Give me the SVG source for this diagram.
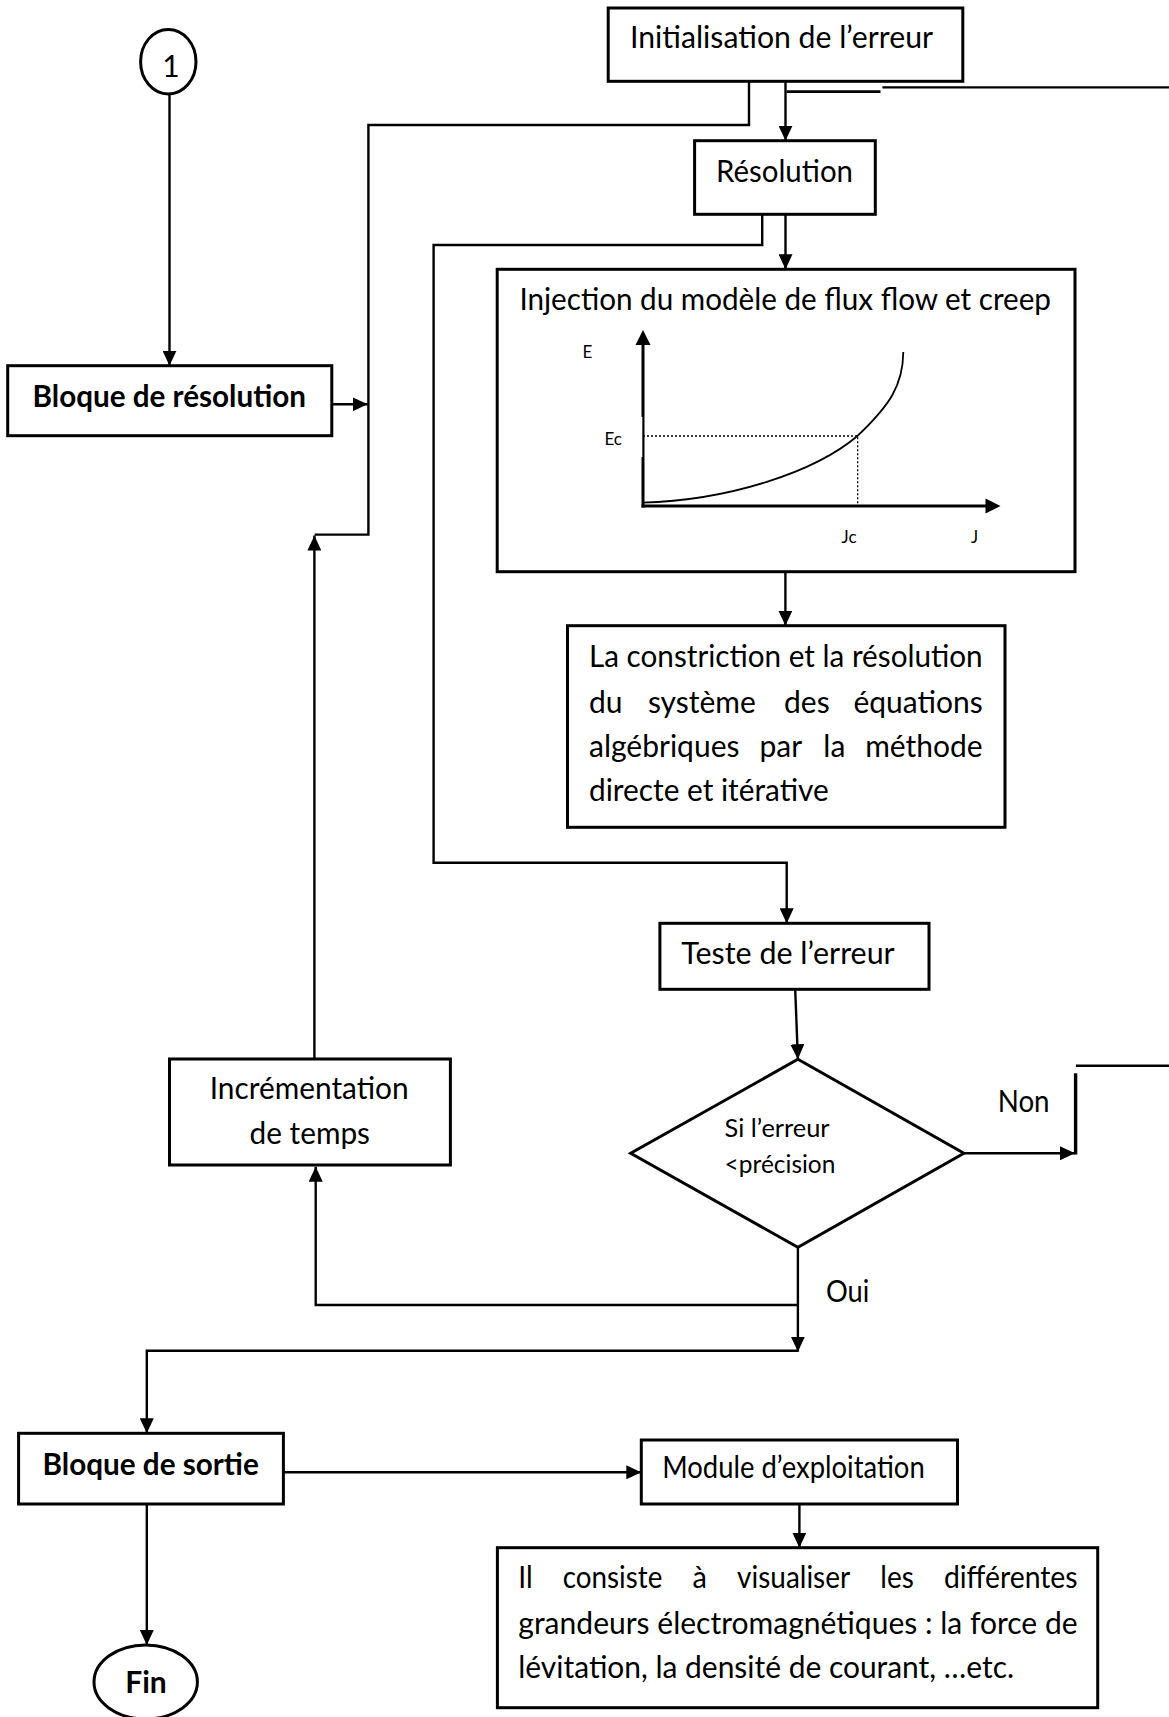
<svg xmlns="http://www.w3.org/2000/svg" width="1169" height="1717" viewBox="0 0 1169 1717">
<style>
.box{fill:#fff;stroke:#000;stroke-width:3}
.ln{fill:none;stroke:#000;stroke-width:2.4}
.t{font-family:Lato,"Open Sans",sans-serif;font-size:30px;fill:#000}
.b{font-weight:bold}
.s{font-size:17px}
.m{font-size:25px}
.e{text-anchor:end}
</style>
<defs>
<marker id="ah" markerUnits="userSpaceOnUse" markerWidth="15" markerHeight="14" refX="15" refY="7" orient="auto">
<path d="M0,0 L15,7 L0,14 z" fill="#000"/>
</marker>
</defs>
<rect width="1169" height="1717" fill="#fff"/>

<g id="connectors">
<line class="ln" x1="169.5" y1="94" x2="169.5" y2="365.7" marker-end="url(#ah)"/>
<line class="ln" x1="331.8" y1="404.3" x2="367.6" y2="404.3" marker-end="url(#ah)"/>
<polyline class="ln" points="749,81.3 749,125 368.4,125 368.4,534.6 314.6,534.6"/>
<line class="ln" x1="314.4" y1="1059" x2="314.4" y2="535.6" marker-end="url(#ah)"/>
<line class="ln" x1="785.5" y1="81.3" x2="785.5" y2="140.7" marker-end="url(#ah)"/>
<line x1="786.6" y1="91.7" x2="880.5" y2="91.7" stroke="#000" stroke-width="2.8"/>
<line x1="882.4" y1="87.3" x2="1169" y2="87.3" stroke="#000" stroke-width="2.2"/>
<polyline class="ln" points="762.2,214.3 762.2,245 433.6,245 433.6,862.7 786.7,862.7 786.7,923.3" marker-end="url(#ah)"/>
<line class="ln" x1="785.5" y1="214.3" x2="785.5" y2="269.3" marker-end="url(#ah)"/>
<line class="ln" x1="785.4" y1="571.7" x2="785.4" y2="625.7" marker-end="url(#ah)"/>
<line class="ln" x1="795.2" y1="989.3" x2="797.9" y2="1059.3" marker-end="url(#ah)"/>
<line class="ln" x1="963.9" y1="1153.3" x2="1075" y2="1153.3" marker-end="url(#ah)"/>
<line x1="1075.6" y1="1073.3" x2="1075.6" y2="1154.5" stroke="#000" stroke-width="3.4"/>
<line x1="1075.9" y1="1065.7" x2="1169" y2="1065.7" stroke="#000" stroke-width="2.4"/>
<line class="ln" x1="797.9" y1="1247.3" x2="797.9" y2="1351.7" marker-end="url(#ah)"/>
<polyline class="ln" points="797.9,1305 315.7,1305 315.7,1166.7" marker-end="url(#ah)"/>
<polyline class="ln" points="797.9,1350.7 146.8,1350.7 146.8,1433.3" marker-end="url(#ah)"/>
<line class="ln" x1="283.4" y1="1472.3" x2="641.3" y2="1472.3" marker-end="url(#ah)"/>
<line class="ln" x1="799.4" y1="1504" x2="799.4" y2="1547.7" marker-end="url(#ah)"/>
<line class="ln" x1="146.8" y1="1504" x2="146.8" y2="1645" marker-end="url(#ah)"/>
</g>

<g id="n_start">
<ellipse class="box" cx="168.3" cy="61.7" rx="27.7" ry="32.3" stroke-width="2.4"/>
<text class="t" x="171" y="77.3" font-size="28" text-anchor="middle">1</text>
</g>

<g id="n_bloque_resolution">
<rect class="box" x="7.7" y="365.7" width="324.1" height="70"/>
<text class="t b" x="32.5" y="407" textLength="273.5" lengthAdjust="spacingAndGlyphs">Bloque de résolution</text>
</g>

<g id="n_init">
<rect class="box" x="608.2" y="8" width="354.6" height="73.3"/>
<text class="t" x="630" y="48.3" textLength="303" lengthAdjust="spacingAndGlyphs">Initialisation de l’erreur</text>
</g>

<g id="n_resolution">
<rect class="box" x="694.6" y="140.7" width="180.7" height="73.6"/>
<text class="t" x="716" y="181.7" textLength="137" lengthAdjust="spacingAndGlyphs">Résolution</text>
</g>

<g id="n_injection">
<rect class="box" x="497.2" y="269.3" width="577.8" height="302.4"/>
<text class="t" x="519.4" y="310" textLength="531.6" lengthAdjust="spacingAndGlyphs">Injection du modèle de flux flow et creep</text>
<line x1="643" y1="507.5" x2="643" y2="344" stroke="#000" stroke-width="3"/>
<path d="M643,330 L650.5,345 L635.5,345 z" fill="#000"/>
<rect x="640" y="417" width="2.3" height="40" fill="#fff"/>
<line x1="641.5" y1="506" x2="986" y2="506" stroke="#000" stroke-width="3"/>
<path d="M1000.5,506 L985.5,498.5 L985.5,513.5 z" fill="#000"/>
<path d="M642,502.7 C730,500 815,472 857.7,435.7 C890,405 903,385 903.3,352" fill="none" stroke="#000" stroke-width="1.8"/>
<polyline points="643,436 857.7,436 857.7,506" fill="none" stroke="#000" stroke-width="1.3" stroke-dasharray="2,2"/>
<text class="t s" x="582.6" y="358.3">E</text>
<text class="t s" x="604.4" y="445">Ec</text>
<text class="t s" x="841.6" y="543.3">Jc</text>
<text class="t s" x="971" y="543.3">J</text>
</g>

<g id="n_constriction">
<rect class="box" x="567.5" y="625.7" width="437.5" height="201.6"/>
<text class="t" x="589" y="667.3" textLength="393.7" lengthAdjust="spacingAndGlyphs">La constriction et la résolution</text>
<text class="t" x="589" y="712.7">du</text>
<text class="t" x="647.9" y="712.7">système</text>
<text class="t" x="784" y="712.7">des</text>
<text class="t e" x="982.7" y="712.7">équations</text>
<text class="t" x="589" y="756.7">algébriques</text>
<text class="t" x="759.5" y="756.7">par</text>
<text class="t" x="823.3" y="756.7">la</text>
<text class="t e" x="982.7" y="756.7">méthode</text>
<text class="t" x="589" y="800.7" textLength="239.7" lengthAdjust="spacingAndGlyphs">directe et itérative</text>
</g>

<g id="n_teste">
<rect class="box" x="659.9" y="923.3" width="269.1" height="66"/>
<text class="t" x="681.3" y="964.3" textLength="213.4" lengthAdjust="spacingAndGlyphs">Teste de l’erreur</text>
</g>

<g id="n_decision">
<polygon class="box" points="797.9,1059.3 963.9,1153.3 797.9,1247.3 630.7,1153.3" stroke-width="2.6"/>
<text class="t m" x="724.6" y="1136.7" textLength="105" lengthAdjust="spacingAndGlyphs">Si l’erreur</text>
<text class="t m" x="724.6" y="1173.3" textLength="110.8" lengthAdjust="spacingAndGlyphs">&lt;précision</text>
</g>

<g id="labels">
<text class="t" x="997.7" y="1111.7" textLength="51.9" lengthAdjust="spacingAndGlyphs">Non</text>
<text class="t" x="826" y="1301.7" textLength="43.3" lengthAdjust="spacingAndGlyphs">Oui</text>
</g>

<g id="n_increment">
<rect class="box" x="169.5" y="1059" width="280.9" height="106"/>
<text class="t" x="209.7" y="1099.3" textLength="199" lengthAdjust="spacingAndGlyphs">Incrémentation</text>
<text class="t" x="249.5" y="1144" textLength="120.5" lengthAdjust="spacingAndGlyphs">de temps</text>
</g>

<g id="n_sortie">
<rect class="box" x="18.6" y="1433.3" width="264.8" height="70.7"/>
<text class="t b" x="42.5" y="1475" textLength="216.3" lengthAdjust="spacingAndGlyphs">Bloque de sortie</text>
</g>

<g id="n_module">
<rect class="box" x="641.3" y="1440" width="316.2" height="64"/>
<text class="t" x="662.2" y="1478.3" font-size="28" textLength="262.5" lengthAdjust="spacingAndGlyphs">Module d’exploitation</text>
</g>

<g id="n_consiste">
<rect class="box" x="497.4" y="1547.7" width="600.3" height="160"/>
<text class="t" x="518.3" y="1588.3" textLength="14.4" lengthAdjust="spacingAndGlyphs">Il</text>
<text class="t" x="562.8" y="1588.3" textLength="99.6" lengthAdjust="spacingAndGlyphs">consiste</text>
<text class="t" x="692.5" y="1588.3" textLength="14.4" lengthAdjust="spacingAndGlyphs">à</text>
<text class="t" x="737" y="1588.3" textLength="113.2" lengthAdjust="spacingAndGlyphs">visualiser</text>
<text class="t" x="880.3" y="1588.3" textLength="33.5" lengthAdjust="spacingAndGlyphs">les</text>
<text class="t" x="943.9" y="1588.3" textLength="133.7" lengthAdjust="spacingAndGlyphs">différentes</text>
<text class="t" x="518.3" y="1634" textLength="559.3" lengthAdjust="spacingAndGlyphs">grandeurs électromagnétiques : la force de</text>
<text class="t" x="518.3" y="1677.7" textLength="495.7" lengthAdjust="spacingAndGlyphs">lévitation, la densité de courant, …etc.</text>
</g>

<g id="n_fin">
<ellipse class="box" cx="145.7" cy="1682" rx="51.7" ry="37" stroke-width="2.4"/>
<text class="t b" x="146" y="1693.3" text-anchor="middle">Fin</text>
</g>
</svg>
